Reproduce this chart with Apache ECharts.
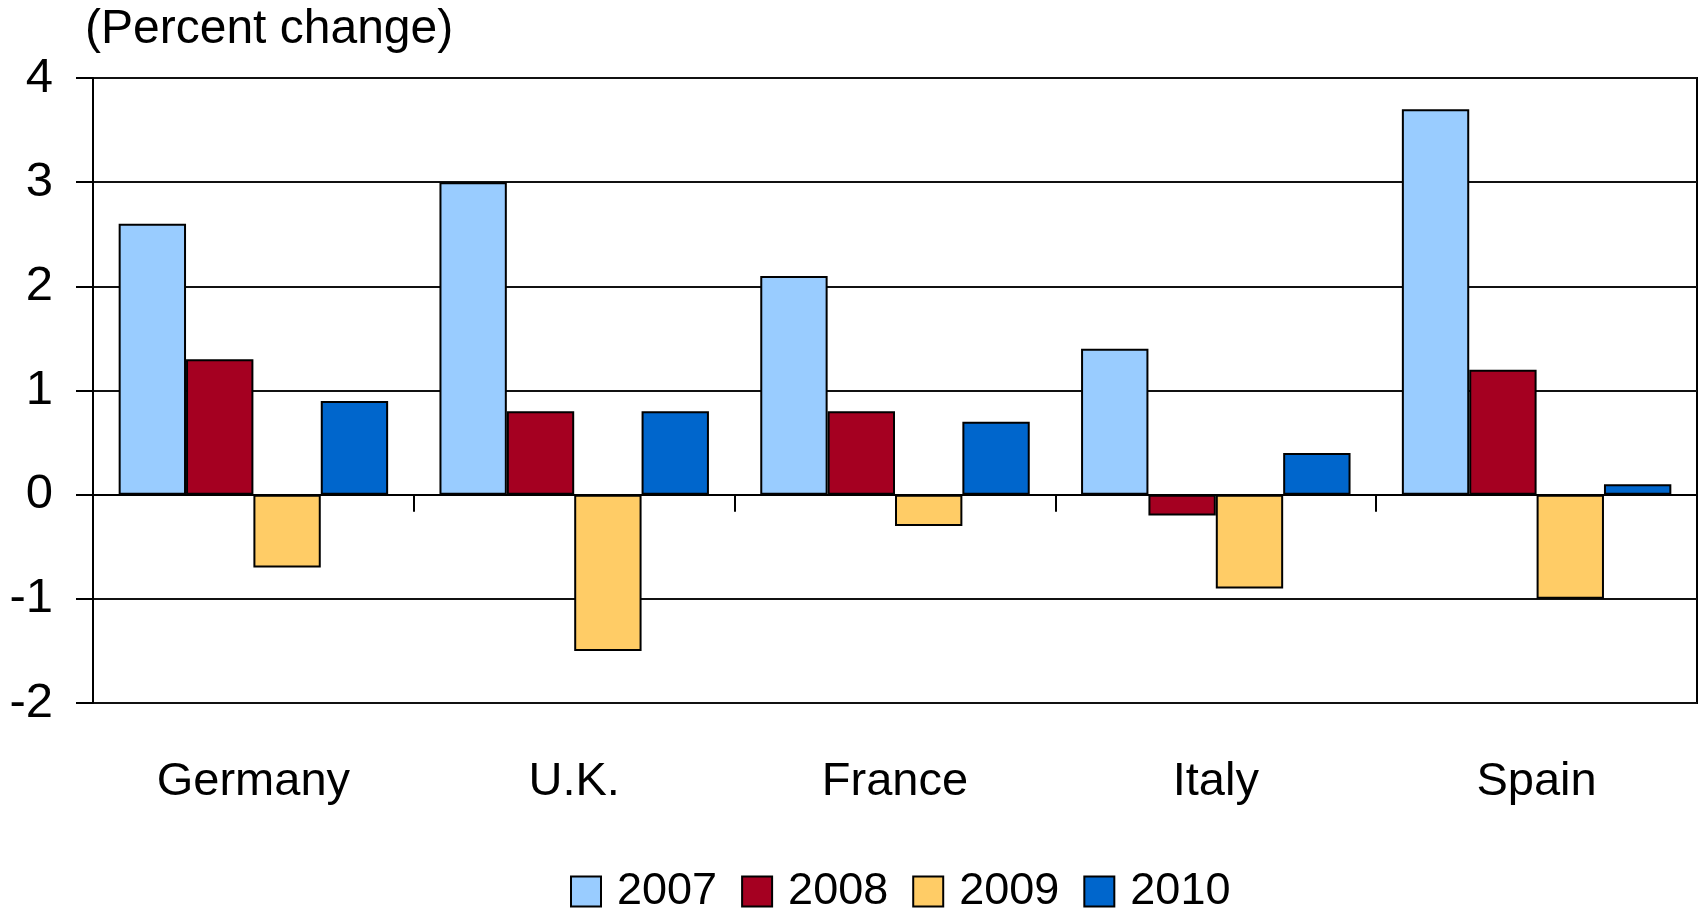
<!DOCTYPE html>
<html>
<head>
<meta charset="utf-8">
<script src="https://cdn.jsdelivr.net/npm/echarts@6/dist/echarts.min.js"></script>
<style>
  html, body { margin: 0; padding: 0; background: #fff; }
  #chart { width: 1699px; height: 914px; }
</style>
</head>
<body>
<div id="chart"></div>
<script>
// Annual percent change by country
const countries = ['Germany', 'U.K.', 'France', 'Italy', 'Spain'];
const years = ['2007', '2008', '2009', '2010'];
const values2007 = [2.6, 3.0, 2.1, 1.4, 3.7];
const values2008 = [1.3, 0.8, 0.8, -0.2, 1.2];
const values2009 = [-0.7, -1.5, -0.3, -0.9, -1.0];
const values2010 = [0.9, 0.8, 0.7, 0.4, 0.1];
const yearColors = ['#99CCFF', '#A50021', '#FFCC66', '#0066CC'];

const font = '"Liberation Sans", Arial, sans-serif';
const seriesValues = [values2007, values2008, values2009, values2010];

const chart = echarts.init(document.getElementById('chart'), null, { renderer: 'canvas' });

chart.setOption({
  animation: false,
  backgroundColor: '#fff',
  title: {
    text: '(Percent change)',
    left: 80,
    top: -2,
    textStyle: { fontFamily: font, fontSize: 48, fontWeight: 'normal', color: '#000', lineHeight: 54 }
  },
  legend: {
    data: years,
    left: 565,
    top: 864,
    itemWidth: 30,
    itemHeight: 30,
    itemGap: 24,
    icon: 'rect',
    itemStyle: { borderColor: '#000', borderWidth: 2 },
    textStyle: { fontFamily: font, fontSize: 45, color: '#000', padding: [0, 0, 0, 11] }
  },
  grid: {
    left: 93,
    right: 2,
    top: 78,
    bottom: 211,
    show: true,
    borderColor: '#000',
    borderWidth: 2,
    backgroundColor: 'transparent'
  },
  xAxis: [
    {
      type: 'category',
      data: countries,
      position: 'bottom',
      axisLine: { onZero: true, lineStyle: { color: '#000', width: 2 } },
      axisTick: { show: true, length: 17, lineStyle: { color: '#000', width: 2 } },
      axisLabel: { show: false }
    },
    {
      type: 'category',
      data: countries,
      position: 'bottom',
      axisLine: { show: false, onZero: false },
      axisTick: { show: false },
      axisLabel: { margin: 56, fontFamily: font, fontSize: 47, color: '#000' }
    }
  ],
  yAxis: {
    type: 'value',
    min: -2,
    max: 4,
    interval: 1,
    axisLine: { show: true, lineStyle: { color: '#000', width: 2 } },
    axisTick: { show: true, length: 17, lineStyle: { color: '#000', width: 2 } },
    axisLabel: { margin: 40, fontFamily: font, fontSize: 49, color: '#000' },
    splitLine: { show: true, lineStyle: { color: '#111', width: 2 } }
  },
  series: years.map((y, i) => ({
    name: y,
    type: 'bar',
    xAxisIndex: 0,
    data: seriesValues[i],
    barGap: '0%',
    barCategoryGap: '16%',
    itemStyle: { color: yearColors[i], borderColor: '#000', borderWidth: 2 }
  }))
});
</script>
</body>
</html>
